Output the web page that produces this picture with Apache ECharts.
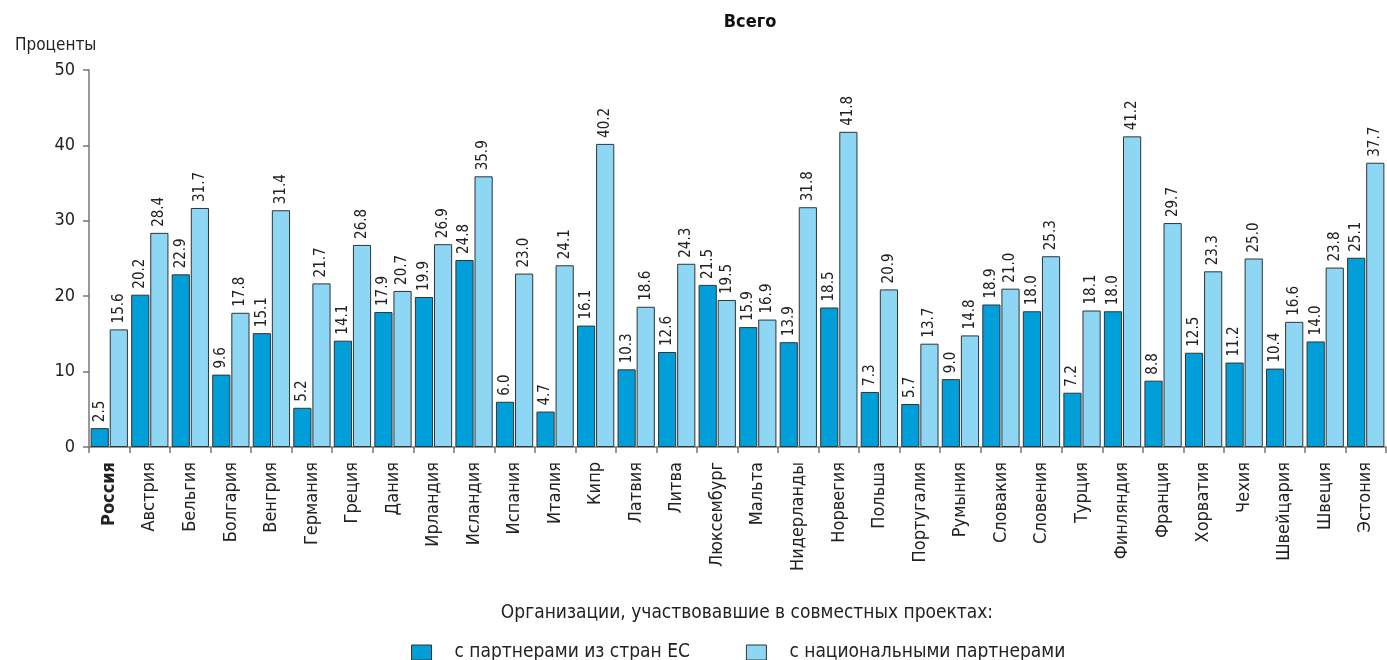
<!DOCTYPE html>
<html><head><meta charset="utf-8">
<script src="https://cdn.jsdelivr.net/npm/echarts@6/dist/echarts.min.js"></script>
<style>html,body{margin:0;padding:0;background:#fff}#c{width:1387px;height:660px}</style>
</head><body><div id="c"></div>
<script>
const categories = ["Россия","Австрия","Бельгия","Болгария","Венгрия","Германия","Греция","Дания","Ирландия","Исландия","Испания","Италия","Кипр","Латвия","Литва","Люксембург","Мальта","Нидерланды","Норвегия","Польша","Португалия","Румыния","Словакия","Словения","Турция","Финляндия","Франция","Хорватия","Чехия","Швейцария","Швеция","Эстония"];
const euPartners = [2.5,20.2,22.9,9.6,15.1,5.2,14.1,17.9,19.9,24.8,6.0,4.7,16.1,10.3,12.6,21.5,15.9,13.9,18.5,7.3,5.7,9.0,18.9,18.0,7.2,18.0,8.8,12.5,11.2,10.4,14.0,25.1];
const nationalPartners = [15.6,28.4,31.7,17.8,31.4,21.7,26.8,20.7,26.9,35.9,23.0,24.1,40.2,18.6,24.3,19.5,16.9,31.8,41.8,20.9,13.7,14.8,21.0,25.3,18.1,41.2,29.7,23.3,25.0,16.6,23.8,37.7];
const seriesNames = ["с партнерами из стран ЕС","с национальными партнерами"];
const yTicks = [0,10,20,30,40,50];

const FONT = "'DejaVu Sans Condensed','Liberation Sans Narrow',sans-serif";
const chart = echarts.init(document.getElementById('c'));
const labelCfg = {show:true, position:'top', rotate:90, align:'left', verticalAlign:'middle', distance:6,
  formatter: p => p.value.toFixed(1), fontFamily:FONT, fontSize:15, color:'#222'};
chart.setOption({
  animation:false,
  title:[{text:'Всего', left:745, top:8, textAlign:'center', textStyle:{fontFamily:FONT, fontSize:18, fontWeight:'bold', color:'#111'}},
         {text:'Проценты', left:10, top:32, textStyle:{fontFamily:FONT, fontSize:17, fontWeight:'normal', color:'#222'}},
         {text:'Организации, участвовавшие в совместных проектах:', left:742, top:599, textAlign:'center', textStyle:{fontFamily:FONT, fontSize:19, fontWeight:'normal', color:'#222'}}],
  legend:{data:seriesNames, left:406, top:638, itemWidth:20, itemHeight:15, itemGap:56, icon:'rect',
    itemStyle:{borderColor:'#333', borderWidth:1},
    textStyle:{fontFamily:FONT, fontSize:19, color:'#222', padding:[0,0,0,18]}},
  grid:{left:89, right:1, top:70, bottom:213, containLabel:false},
  xAxis:{type:'category', data:categories,
    axisLine:{lineStyle:{color:'#777', width:1.5}},
    axisTick:{show:true, length:6, lineStyle:{color:'#777', width:1.5}},
    axisLabel:{rotate:90, interval:0, fontFamily:FONT, fontSize:18, color:'#222', margin:15,
      formatter: v => v === 'Россия' ? '{b|'+v+'}' : v, rich:{b:{fontWeight:'bold', fontFamily:FONT, fontSize:18, color:'#222'}}}},
  yAxis:{type:'value', min:0, max:50, interval:10,
    axisLine:{show:true, lineStyle:{color:'#777', width:1.5}},
    axisTick:{show:true, inside:false, length:6, lineStyle:{color:'#777', width:1.5}},
    axisLabel:{fontFamily:FONT, fontSize:18, color:'#222', margin:14},
    splitLine:{show:false}},
  series:[
    {name:seriesNames[0], type:'bar', data:euPartners, barGap:'5%', barCategoryGap:'8%',
     itemStyle:{color:'#009fda', borderColor:'#333', borderWidth:1}, label:labelCfg},
    {name:seriesNames[1], type:'bar', data:nationalPartners,
     itemStyle:{color:'#8dd7f5', borderColor:'#333', borderWidth:1}, label:labelCfg}
  ]
});
</script></body></html>
